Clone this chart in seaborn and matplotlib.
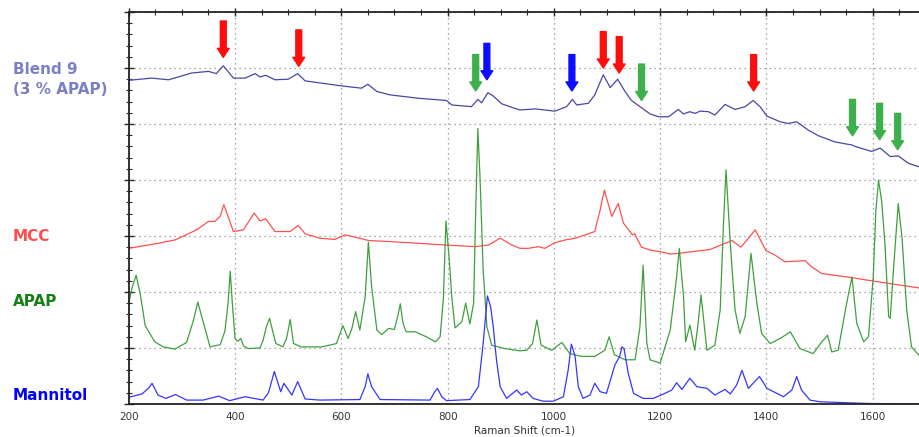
import numpy as np
import pandas as pd
import seaborn as sns
import matplotlib.pyplot as plt
from matplotlib.ticker import MultipleLocator

# Raman shift (cm-1) / intensity pairs, curves stacked with an offset
blend_x = [200, 243, 275, 318, 350, 365, 378, 397, 419, 438, 447, 458, 475, 500, 518, 532, 563, 601,
           638, 650, 667, 692, 745, 798, 808, 845, 857, 864, 876, 886, 902, 936, 965, 1002, 1024,
           1035, 1043, 1065, 1077, 1093, 1106, 1120, 1134, 1146, 1162, 1181, 1197, 1216, 1234,
           1244, 1256, 1266, 1275, 1291, 1303, 1322, 1341, 1360, 1375, 1388, 1401, 1426, 1441,
           1457, 1479, 1498, 1529, 1561, 1567, 1598, 1614, 1633, 1648, 1667, 1689]
blend_y = [5.78, 5.82, 5.79, 5.91, 5.94, 5.90, 6.04, 5.82, 5.82, 5.90, 5.84, 5.87, 5.79, 5.80, 5.90,
           5.77, 5.73, 5.68, 5.64, 5.71, 5.58, 5.52, 5.46, 5.42, 5.34, 5.31, 5.44, 5.38, 5.56, 5.50,
           5.36, 5.25, 5.27, 5.23, 5.31, 5.44, 5.34, 5.37, 5.52, 5.88, 5.65, 5.80, 5.58, 5.42, 5.31,
           5.18, 5.13, 5.13, 5.26, 5.18, 5.22, 5.19, 5.23, 5.22, 5.16, 5.35, 5.26, 5.31, 5.42, 5.31,
           5.14, 5.04, 5.01, 5.04, 4.89, 4.79, 4.68, 4.625, 4.60, 4.51, 4.57, 4.42, 4.43, 4.30, 4.23]

mcc_x = [200, 256, 287, 328, 350, 362, 372, 379, 387, 397, 416, 436, 447, 458, 475, 491, 504, 519,
         532, 560, 588, 607, 626, 651, 692, 745, 795, 852, 877, 899, 921, 936, 952, 971, 983, 1002,
         1021, 1040, 1059, 1077, 1087, 1095, 1109, 1121, 1131, 1148, 1152, 1165, 1181, 1200, 1219,
         1234, 1294, 1335, 1352, 1379, 1399, 1416, 1435, 1473, 1485, 1504, 1558, 1598, 1689]
mcc_y = [2.78, 2.87, 2.93, 3.11, 3.26, 3.26, 3.35, 3.56, 3.35, 3.08, 3.11, 3.41, 3.27, 3.31, 3.08,
         3.08, 3.08, 3.19, 3.04, 2.96, 2.94, 3.02, 2.98, 2.92, 2.90, 2.87, 2.84, 2.81, 2.84, 2.96,
         2.84, 2.78, 2.78, 2.81, 2.78, 2.88, 2.93, 2.96, 3.02, 3.08, 3.46, 3.82, 3.35, 3.58, 3.23,
         3.02, 3.04, 2.80, 2.75, 2.72, 2.68, 2.69, 2.76, 2.92, 2.80, 3.11, 2.74, 2.66, 2.54, 2.56,
         2.45, 2.33, 2.26, 2.20, 2.07]

apap_x = [200, 207, 214, 222, 231, 249, 265, 287, 309, 322, 330, 340, 353, 372, 381, 387, 391, 395,
          400, 405, 411, 416, 425, 447, 453, 459, 465, 471, 477, 490, 497, 504, 510, 525, 563, 591,
          603, 613, 620, 627, 635, 645, 651, 657, 667, 676, 689, 700, 707, 711, 716, 722, 739, 760,
          777, 786, 792, 797, 803, 808, 814, 827, 834, 842, 849, 853, 857, 861, 867, 874, 883, 908,
          936, 949, 960, 968, 976, 996, 1015, 1030, 1052, 1077, 1096, 1104, 1114, 1134, 1153, 1162,
          1168, 1175, 1181, 1200, 1219, 1231, 1236, 1244, 1248, 1256, 1265, 1271, 1277, 1288, 1303,
          1313, 1319, 1324, 1332, 1341, 1350, 1360, 1371, 1382, 1391, 1407, 1426, 1445, 1463, 1488,
          1504, 1510, 1515, 1523, 1535, 1551, 1561, 1570, 1583, 1592, 1601, 1606, 1611, 1617, 1623,
          1630, 1633, 1639, 1648, 1655, 1664, 1673, 1689]
apap_y = [1.80, 2.10, 2.30, 1.95, 1.40, 1.11, 1.02, 0.98, 1.10, 1.50, 1.82, 1.47, 1.02, 1.06, 1.30,
          1.80, 2.37, 1.80, 1.17, 1.12, 1.17, 1.04, 0.99, 1.00, 1.14, 1.38, 1.53, 1.30, 1.08, 1.02,
          1.17, 1.51, 1.08, 1.02, 1.02, 1.08, 1.40, 1.17, 1.35, 1.65, 1.32, 1.92, 2.89, 2.10, 1.32,
          1.24, 1.35, 1.33, 1.60, 1.79, 1.45, 1.29, 1.29, 1.20, 1.11, 1.20, 1.86, 3.27, 2.60, 1.90,
          1.36, 1.47, 1.80, 1.43, 1.80, 3.46, 4.92, 4.06, 2.39, 1.38, 1.05, 0.99, 0.95, 0.96, 1.08,
          1.50, 1.05, 0.96, 1.10, 0.90, 0.85, 0.85, 0.96, 1.20, 0.88, 0.79, 0.79, 1.38, 2.48, 1.08,
          0.79, 0.73, 1.32, 2.27, 2.78, 1.92, 1.11, 1.41, 0.96, 1.40, 1.95, 0.96, 1.05, 1.68, 3.17,
          4.18, 2.87, 1.68, 1.26, 1.56, 2.69, 1.80, 1.26, 1.08, 1.17, 1.29, 0.99, 0.90, 1.11, 1.17,
          1.23, 0.93, 0.96, 1.80, 2.27, 1.44, 1.11, 1.20, 2.27, 3.46, 4.00, 3.61, 2.87, 1.56, 1.53,
          2.39, 3.58, 2.99, 1.68, 1.02, 0.85]

mannitol_x = [200, 225, 237, 244, 255, 270, 288, 309, 340, 369, 390, 419, 453, 463, 474, 486, 492,
              507, 518, 532, 560, 635, 645, 650, 657, 673, 767, 776, 781, 789, 798, 842, 858, 867,
              875, 881, 886, 892, 899, 911, 930, 939, 949, 961, 980, 999, 1018, 1027, 1033, 1040,
              1046, 1055, 1068, 1077, 1087, 1099, 1115, 1124, 1128, 1132, 1140, 1150, 1168, 1187,
              1209, 1222, 1231, 1241, 1256, 1269, 1288, 1303, 1322, 1332, 1344, 1354, 1366, 1387,
              1401, 1432, 1448, 1457, 1466, 1482, 1501, 1589, 1689]
mannitol_y = [0.12, 0.18, 0.28, 0.37, 0.16, 0.10, 0.17, 0.07, 0.07, 0.14, 0.06, 0.13, 0.07, 0.20,
              0.58, 0.22, 0.37, 0.16, 0.40, 0.09, 0.07, 0.08, 0.31, 0.54, 0.31, 0.08, 0.07, 0.22,
              0.28, 0.13, 0.06, 0.08, 0.31, 1.08, 1.93, 1.74, 1.38, 0.79, 0.31, 0.10, 0.25, 0.16,
              0.22, 0.10, 0.05, 0.05, 0.13, 0.61, 1.07, 0.85, 0.31, 0.10, 0.16, 0.37, 0.22, 0.19,
              0.70, 0.85, 1.02, 0.99, 0.55, 0.19, 0.10, 0.10, 0.19, 0.25, 0.38, 0.26, 0.46, 0.31,
              0.28, 0.16, 0.26, 0.18, 0.34, 0.60, 0.28, 0.49, 0.28, 0.13, 0.25, 0.49, 0.25, 0.07,
              0.04, 0.01, 0.00]

# marker arrows: position and the top of the arrow (they all point down)
arrow_x = [378, 520, 1093, 1123, 1376, 874, 1034, 853, 1165, 1562, 1613, 1647]
arrow_top = [6.84, 6.68, 6.65, 6.56, 6.24, 6.44, 6.24, 6.24, 6.07, 5.44, 5.37, 5.19]
arrow_kind = ["MCC", "MCC", "MCC", "MCC", "MCC", "Mannitol", "Mannitol",
              "APAP", "APAP", "APAP", "APAP", "APAP"]

labels = ["Blend 9\n(3 % APAP)", "MCC", "APAP", "Mannitol"]
line_colors = ["#4747a6", "#ff5050", "#3f9f3f", "#3535ff"]
label_colors = ["#7b80c6", "#ff4d4d", "#128012", "#0000ff"]
arrow_colors = {"MCC": "#ff0d0d", "Mannitol": "#0d0dff", "APAP": "#3cb04a"}

frames = []
for name, xs, ys in zip(labels, [blend_x, mcc_x, apap_x, mannitol_x],
                        [blend_y, mcc_y, apap_y, mannitol_y]):
    frames.append(pd.DataFrame({"shift": xs, "intensity": ys, "sample": name}))
spectra = pd.concat(frames, ignore_index=True)

sns.set_style("white")
plt.rcParams['font.family'] = ['DejaVu Sans']

fig = plt.figure(figsize=(9.2, 4.37), dpi=100)
ax = fig.add_axes([0.1399, 0.0755, 0.8601, 0.897])

for name, col in zip(labels, line_colors):
    sub = spectra[spectra["sample"] == name]
    sns.lineplot(data=sub, x="shift", y="intensity", color=col, lw=0.9,
                 estimator=None, ax=ax, legend=False)

for x, top, kind in zip(arrow_x, arrow_top, arrow_kind):
    ax.annotate('', xy=(x, top - 0.65), xytext=(x, top),
                arrowprops=dict(width=4.2, headwidth=8.5, headlength=6.5,
                                color=arrow_colors[kind], shrink=0))

ax.set_xlim(200, 1689)
ax.set_ylim(0, 7)
ax.xaxis.set_major_locator(MultipleLocator(200))
ax.xaxis.set_minor_locator(MultipleLocator(50))
ax.yaxis.set_major_locator(MultipleLocator(1))
ax.yaxis.set_minor_locator(MultipleLocator(0.2))
ax.grid(True, which='major', linestyle=(0, (1, 3)), color='#8a8a8a', lw=0.9)
ax.set_yticklabels([])
ax.set_ylabel('')
ax.set_xlabel('Raman Shift (cm-1)', fontsize=7.5, color='#333333', labelpad=2)
ax.tick_params(axis='x', which='both', direction='inout', labelsize=7.5,
               labelcolor='#333333', pad=3, top=True)
ax.tick_params(axis='x', which='major', length=6, width=1.0)
ax.tick_params(axis='x', which='minor', length=4, width=0.8)
ax.tick_params(axis='y', which='both', direction='inout', left=True)
ax.tick_params(axis='y', which='major', length=7, width=1.0)
ax.tick_params(axis='y', which='minor', length=4, width=0.8)

for side in ['left', 'bottom', 'top']:
    ax.spines[side].set_color('#222222')
    ax.spines[side].set_linewidth(1.3)
ax.spines['right'].set_visible(False)

# sample names on the left, outside the plot
label_pos = [(13, 69), (13, 236), (13, 301), (13, 396)]
for (px, py), txt, col in zip(label_pos, labels, label_colors):
    if "\n" in txt:
        first, second = txt.split("\n")
        fig.text(px / 920, 1 - py / 437, first, color=col, fontsize=11,
                 fontweight='bold', va='center', ha='left')
        fig.text(px / 920, 1 - 90 / 437, second, color=col, fontsize=11,
                 fontweight='bold', va='center', ha='left')
    else:
        fig.text(px / 920, 1 - py / 437, txt, color=col, fontsize=11,
                 fontweight='bold', va='center', ha='left')

fig.savefig('out.png', dpi=100)
